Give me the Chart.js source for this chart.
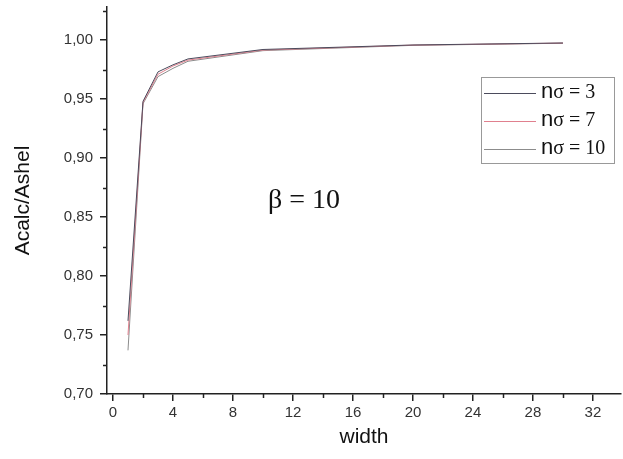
<!DOCTYPE html>
<html>
<head>
<meta charset="utf-8">
<script src="https://cdn.jsdelivr.net/npm/chart.js@4"></script>
<style>
  html, body { margin: 0; padding: 0; background: #fff; }
  #wrap { width: 623px; height: 459px; position: relative; }
</style>
</head>
<body>
<div id="wrap"><canvas id="mycanvas" width="623" height="459"></canvas></div>
<script>
// values
var widths = [1, 2, 3, 4, 5, 10, 20, 30];
var ns3  = [0.762, 0.948, 0.973, 0.979, 0.984, 0.992, 0.9958, 0.9975];
var ns7  = [0.750, 0.947, 0.971, 0.978, 0.983, 0.9915, 0.9957, 0.9974];
var ns10 = [0.737, 0.946, 0.969, 0.976, 0.982, 0.991, 0.9955, 0.9973];
var seriesNames = ['3', '7', '10'];
var xTicks = [0, 4, 8, 12, 16, 20, 24, 28, 32];
var xMinor = [2, 6, 10, 14, 18, 22, 26, 30];
var yTicks = [0.70, 0.75, 0.80, 0.85, 0.90, 0.95, 1.00];
var yMinor = [0.725, 0.775, 0.825, 0.875, 0.925, 0.975, 1.025];

function pts(ys) {
	var out = [];
	for (var i in widths) out.push({x: widths[i], y: ys[i]});
	return out;
}

var colors = ['#4b4b5c', '#e0808e', '#8c8c8c'];

var chartdata = {
	datasets: [
		{label: seriesNames[0], data: pts(ns3), borderColor: colors[0]},
		{label: seriesNames[1], data: pts(ns7), borderColor: colors[1]},
		{label: seriesNames[2], data: pts(ns10), borderColor: colors[2]}
	]
};

// minor ticks, legend box and beta label
var extras = {
	id: 'extras',
	afterDraw: function(chart) {
		var c = chart.ctx, xs = chart.scales.x, ys = chart.scales.y;
		c.save();
		c.strokeStyle = '#222';
		c.lineWidth = 1.5;
		xMinor.forEach(function(v) {
			var px = Math.round(xs.getPixelForValue(v)) + 0.5;
			c.beginPath(); c.moveTo(px, xs.top); c.lineTo(px, xs.top + 4); c.stroke();
		});
		yMinor.forEach(function(v) {
			var py = Math.round(ys.getPixelForValue(v)) + 0.5;
			c.beginPath(); c.moveTo(ys.right, py); c.lineTo(ys.right - 4, py); c.stroke();
		});
		// legend
		c.strokeStyle = '#999';
		c.lineWidth = 1;
		c.strokeRect(481.5, 77.5, 133, 86);
		chart.data.datasets.forEach(function(ds, i) {
			var y = 93 + i * 28;
			c.strokeStyle = ds.borderColor;
			c.beginPath(); c.moveTo(484, y + 0.5); c.lineTo(536, y + 0.5); c.stroke();
			c.fillStyle = '#111';
			c.textBaseline = 'middle';
			c.font = '22px "Liberation Sans"';
			c.fillText('n', 541, y - 1);
			var w = c.measureText('n').width;
			c.font = '20px "Liberation Serif"';
			c.fillText('\u03c3 = ' + ds.label, 541 + w, y);
		});
		c.font = '28px "Liberation Serif"';
		c.fillStyle = '#111';
		c.fillText('\u03b2 = 10', 268, 201);
		c.restore();
	}
};

var ctx = document.getElementById('mycanvas');
var lineGraph = new Chart(ctx, {
	type: 'line',
	data: chartdata,
	plugins: [extras],
	options: {
		responsive: false,
		animation: false,
		layout: {padding: {top: 7, right: 2, left: 0, bottom: 0}},
		elements: {
			line: {borderWidth: 1, tension: 0},
			point: {radius: 0}
		},
		plugins: {legend: {display: false}, tooltip: {enabled: false}},
		scales: {
			x: {
				type: 'linear',
				min: -0.4,
				max: 33.87,
				afterFit: function(s) { s.height = 65; s.paddingLeft = 0; s.paddingRight = 0; },
				afterBuildTicks: function(s) { s.ticks = xTicks.map(function(v) { return {value: v}; }); },
				border: {color: '#222', width: 1.5},
				grid: {drawOnChartArea: false, drawTicks: true, tickLength: 7, color: '#222', lineWidth: 1.5},
				ticks: {color: '#333', font: {family: '"Liberation Sans"', size: 15}, padding: 3, maxRotation: 0},
				title: {display: true, text: 'width', color: '#111', font: {family: '"Liberation Sans"', size: 21}, padding: {top: 0, bottom: 9}}
			},
			y: {
				min: 0.70,
				max: 1.028,
				afterFit: function(s) { s.width = 107; s.paddingTop = 0; s.paddingBottom = 0; },
				afterBuildTicks: function(s) { s.ticks = yTicks.map(function(v) { return {value: v}; }); },
				border: {color: '#222', width: 1.5},
				grid: {drawOnChartArea: false, drawTicks: true, tickLength: 7, color: '#222', lineWidth: 1.5},
				ticks: {
					color: '#333', font: {family: '"Liberation Sans"', size: 15}, padding: 7,
					callback: function(v) { return v.toFixed(2).replace('.', ','); }
				},
				title: {display: true, text: 'Acalc/Ashel', color: '#111', font: {family: '"Liberation Sans"', size: 21}, padding: {top: 11, bottom: 0}}
			}
		}
	}
});
</script>
</body>
</html>
